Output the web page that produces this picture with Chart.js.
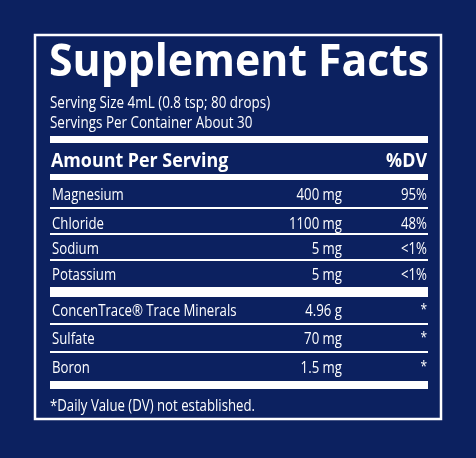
<!DOCTYPE html><html><head><script src="https://cdn.jsdelivr.net/npm/chart.js@4"></script>
<style>html,body{margin:0;padding:0;background:#0c2160;}#w{width:476px;height:458px}</style></head><body><div id="w"><canvas id="c"></canvas></div>
<script>
const title = "Supplement Facts";
const servingLines = ["Serving Size 4mL (0.8 tsp; 80 drops)", "Servings Per Container About 30"];
const headerLabels = ["Amount Per Serving", "%DV"];
const nutrients = ["Magnesium","Chloride","Sodium","Potassium","ConcenTrace® Trace Minerals","Sulfate","Boron"];
const amounts = ["400 mg","1100 mg","5 mg","5 mg","4.96 g","70 mg","1.5 mg"];
const dvs = ["95%","48%","<1%","<1%","*","*","*"];
const footnote = "*Daily Value (DV) not established.";
const rowBase = [200,229,254,280,316,344,373];
const thin = [208,234,260,324,352];
const thick = [[136,143],[174,180],[287,297],[381,389]];

const fg = '#ffffff';
const plugin = {id:'label', afterDraw(ch){
  const c = ch.ctx, X = ch.scales.x, Y = ch.scales.y;
  const px = v=>X.getPixelForValue(v), py = v=>Y.getPixelForValue(v);
  c.save();
  c.strokeStyle = fg; c.lineWidth = 2.5;
  c.strokeRect(px(35), py(35), px(441)-px(35), py(419)-py(35));
  c.fillStyle = fg;
  thick.forEach(([a,b])=>c.fillRect(px(50),py(a),px(428)-px(50),py(b)-py(a)));
  thin.forEach(y=>c.fillRect(px(50),py(y)-1,px(428)-px(50),2));
  function txt(s,x,y,font,align,sx){
    c.save(); c.font=font; c.textAlign=align||'left'; c.textBaseline='alphabetic';
    c.translate(px(x),py(y)); c.scale(sx||0.8,1); c.fillText(s,0,0); c.restore();
  }
  txt(title,49,76,'bold 45px "Open Sans"','left',0.95);
  txt(servingLines[0],50,108,'17px "Open Sans"','left',0.79);
  txt(servingLines[1],50,128,'17px "Open Sans"','left',0.79);
  txt(headerLabels[0],51,167,'bold 19px "Open Sans"','left',0.94);
  txt(headerLabels[1],427,167,'bold 19px "Open Sans"','right',0.94);
  nutrients.forEach((n,i)=>{
    txt(n,52,rowBase[i],'16.5px "Open Sans"');
    txt(amounts[i],342,rowBase[i],'16.5px "Open Sans"','right');
    txt(dvs[i],427,dvs[i]==='*'?rowBase[i]-2:rowBase[i],(dvs[i]==='*'?'15px':'16.5px')+' "Open Sans"','right');
  });
  txt(footnote,50,411,'16.5px "Open Sans"');
  c.restore();
}};
new Chart(document.getElementById('c'),{type:'scatter',data:{datasets:[{data:[]}]},
 options:{responsive:true,maintainAspectRatio:false,animation:false,layout:{padding:0},
  plugins:{legend:{display:false},tooltip:{enabled:false}},
  scales:{x:{type:'linear',min:0,max:476,display:false},y:{type:'linear',min:0,max:458,reverse:true,display:false}}},
 plugins:[plugin]});
</script></body></html>
